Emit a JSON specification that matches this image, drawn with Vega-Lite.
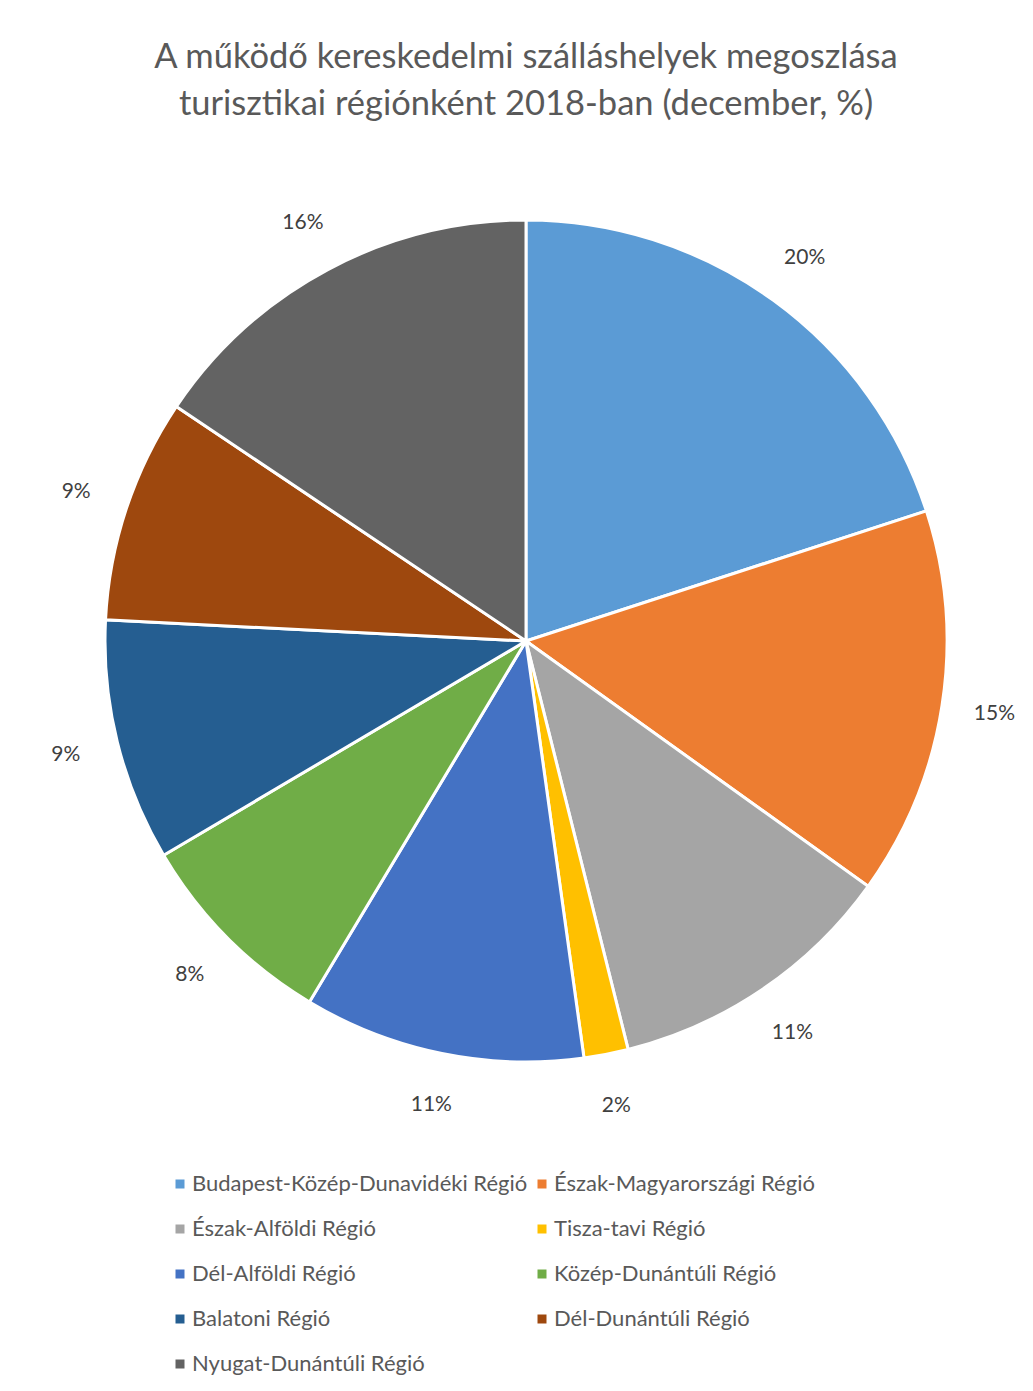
{
  "$schema": "https://vega.github.io/schema/vega-lite/v6.json",
  "autosize": "none",
  "width": 1014,
  "height": 962,
  "padding": {"left": 19, "right": 0, "top": 160, "bottom": 269},
  "background": "white",
  "config": {"view": {"stroke": null}, "font": "Lato"},
  "title": {
    "text": ["A működő kereskedelmi szálláshelyek megoszlása", "turisztikai régiónként 2018-ban (december, %)"],
    "font": "Lato",
    "fontSize": 34.5,
    "fontWeight": "normal",
    "color": "#595959",
    "lineHeight": 47,
    "anchor": "middle",
    "offset": 38
  },
  "data": {
    "values": [
      {"order": 1, "region": "Budapest-Közép-Dunavidéki Régió", "share": 0.200},
      {"order": 2, "region": "Észak-Magyarországi Régió", "share": 0.149},
      {"order": 3, "region": "Észak-Alföldi Régió", "share": 0.112},
      {"order": 4, "region": "Tisza-tavi Régió", "share": 0.017},
      {"order": 5, "region": "Dél-Alföldi Régió", "share": 0.108},
      {"order": 6, "region": "Közép-Dunántúli Régió", "share": 0.079},
      {"order": 7, "region": "Balatoni Régió", "share": 0.093},
      {"order": 8, "region": "Dél-Dunántúli Régió", "share": 0.086},
      {"order": 9, "region": "Nyugat-Dunántúli Régió", "share": 0.156}
    ]
  },
  "encoding": {
    "theta": {"field": "share", "type": "quantitative", "stack": true},
    "order": {"field": "order", "type": "quantitative", "sort": "ascending"}
  },
  "layer": [
    {
      "mark": {"type": "arc", "radius": 421, "stroke": "white", "strokeWidth": 3},
      "encoding": {
        "color": {
          "field": "region",
          "type": "nominal",
          "scale": {
            "domain": ["Budapest-Közép-Dunavidéki Régió", "Észak-Alföldi Régió", "Dél-Alföldi Régió", "Balatoni Régió", "Nyugat-Dunántúli Régió", "Észak-Magyarországi Régió", "Tisza-tavi Régió", "Közép-Dunántúli Régió", "Dél-Dunántúli Régió"],
            "range": ["#5B9BD5", "#A5A5A5", "#4472C4", "#255E91", "#636363", "#ED7D31", "#FFC000", "#70AD47", "#9E480E"]
          },
          "legend": {
            "title": null,
            "orient": "none",
            "legendX": 150,
            "legendY": 1013,
            "columns": 2,
            "symbolType": "square",
            "symbolSize": 81,
            "symbolStrokeWidth": 0,
            "labelFont": "Lato",
            "labelFontSize": 22,
            "labelColor": "#595959",
            "labelOffset": 1,
            "labelLimit": 500,
            "rowPadding": 23,
            "columnPadding": 3
          }
        }
      }
    },
    {
      "mark": {"type": "text", "radius": 474, "font": "Lato", "fontSize": 21, "color": "#404040", "align": "center", "baseline": "middle"},
      "encoding": {
        "text": {"field": "share", "type": "quantitative", "format": ".0%"}
      }
    }
  ]
}
